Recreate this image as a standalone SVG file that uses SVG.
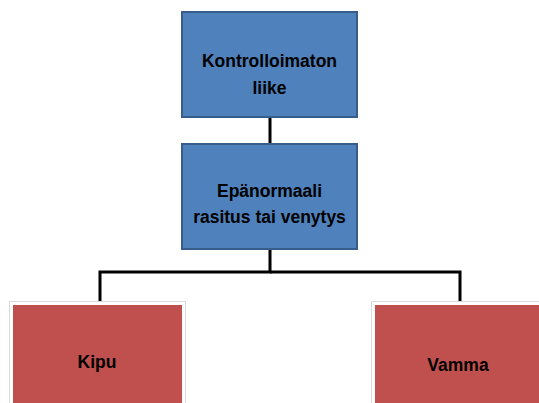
<svg xmlns="http://www.w3.org/2000/svg" width="539" height="403" viewBox="0 0 539 403">
<style>
.blue{fill:#4F81BD;stroke:#385D8A;stroke-width:2}
.red{fill:#C0504D;stroke:#FFFFFF;stroke-width:3}
.shadow{fill:none;stroke:#D9D9D9;stroke-width:1}
.t{font-family:"Liberation Sans",Arial,sans-serif;font-weight:bold;font-size:17.5px;fill:#000;text-anchor:middle}
.c{fill:none;stroke:#000;stroke-width:3}
</style>
<rect width="539" height="403" fill="#fff"/>
<g id="connectors">
<line class="c" x1="270" y1="117" x2="270" y2="143"/>
<polyline class="c" points="270,249 270,272 100,272 100,302"/>
<polyline class="c" points="270,272 460,272 460,302"/>
</g>
<g id="n1">
<rect class="blue" x="182" y="12" width="175" height="105"/>
<text class="t" x="269.5" y="67">Kontrolloimaton</text>
<text class="t" x="269.5" y="94">liike</text>
</g>
<g id="n2">
<rect class="blue" x="182" y="144" width="175" height="105"/>
<text class="t" x="269.5" y="197">Epänormaali</text>
<text class="t" x="269.5" y="223">rasitus tai venytys</text>
</g>
<g id="n3">
<rect class="shadow" x="9.5" y="301.5" width="176" height="110"/>
<rect class="red" x="11.5" y="303.5" width="172" height="110"/>
<text class="t" x="97" y="368">Kipu</text>
</g>
<g id="n4">
<rect class="shadow" x="371.5" y="301.5" width="176" height="110"/>
<rect class="red" x="373.5" y="303.5" width="172" height="110"/>
<text class="t" x="458" y="371">Vamma</text>
</g>
</svg>
